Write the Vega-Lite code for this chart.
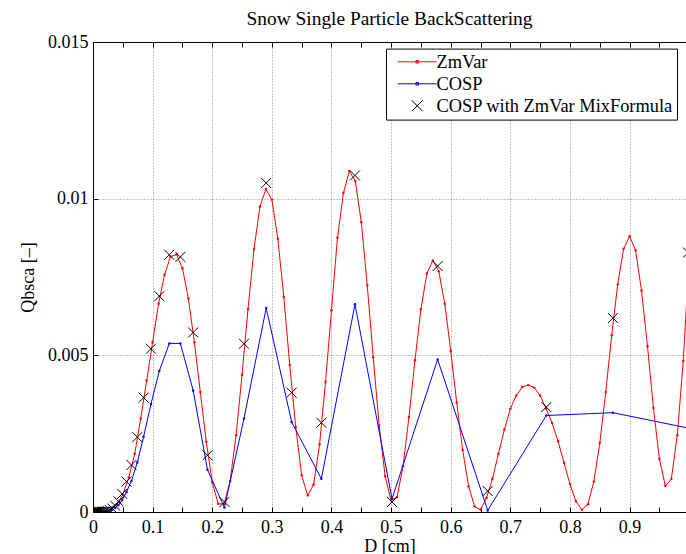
{
  "$schema": "https://vega.github.io/schema/vega-lite/v6.json",
  "width": 593,
  "height": 470,
  "autosize": {"type": "none"},
  "padding": {"left": 93, "top": 42, "right": 0, "bottom": 42},
  "background": "white",
  "title": {"text": "Snow Single Particle BackScattering", "font": "Liberation Serif", "fontSize": 19.4, "fontWeight": "normal", "color": "black", "anchor": "middle", "offset": 4},
  "config": {"view": {"stroke": null}},
  "data": {"values": [
    {"series":"ZmVar","D":0,"Q":0},{"series":"ZmVar","D":0.01,"Q":0.000001},{"series":"ZmVar","D":0.02,"Q":0.000016},{"series":"ZmVar","D":0.03,"Q":0.00008},{"series":"ZmVar","D":0.04,"Q":0.00024},{"series":"ZmVar","D":0.05,"Q":0.00056},{"series":"ZmVar","D":0.06,"Q":0.0011},{"series":"ZmVar","D":0.07,"Q":0.00186},{"series":"ZmVar","D":0.08,"Q":0.00298},{"series":"ZmVar","D":0.09,"Q":0.0042},
    {"series":"ZmVar","D":0.1,"Q":0.00542},{"series":"ZmVar","D":0.11,"Q":0.00665},{"series":"ZmVar","D":0.12,"Q":0.00757},{"series":"ZmVar","D":0.13,"Q":0.00815},{"series":"ZmVar","D":0.14,"Q":0.00822},{"series":"ZmVar","D":0.15,"Q":0.00778},{"series":"ZmVar","D":0.16,"Q":0.00681},{"series":"ZmVar","D":0.17,"Q":0.00542},{"series":"ZmVar","D":0.18,"Q":0.00383},{"series":"ZmVar","D":0.19,"Q":0.00224},
    {"series":"ZmVar","D":0.2,"Q":0.00095},{"series":"ZmVar","D":0.21,"Q":0.00026},{"series":"ZmVar","D":0.22,"Q":0.00026},{"series":"ZmVar","D":0.23,"Q":0.00099},{"series":"ZmVar","D":0.24,"Q":0.00245},{"series":"ZmVar","D":0.25,"Q":0.00438},{"series":"ZmVar","D":0.26,"Q":0.00648},{"series":"ZmVar","D":0.27,"Q":0.00839},{"series":"ZmVar","D":0.28,"Q":0.00974},{"series":"ZmVar","D":0.29,"Q":0.01031},
    {"series":"ZmVar","D":0.3,"Q":0.00997},{"series":"ZmVar","D":0.31,"Q":0.00872},{"series":"ZmVar","D":0.32,"Q":0.00686},{"series":"ZmVar","D":0.33,"Q":0.00469},{"series":"ZmVar","D":0.34,"Q":0.00271},{"series":"ZmVar","D":0.35,"Q":0.00117},{"series":"ZmVar","D":0.36,"Q":0.00053},{"series":"ZmVar","D":0.37,"Q":0.00088},{"series":"ZmVar","D":0.38,"Q":0.00216},{"series":"ZmVar","D":0.39,"Q":0.00415},
    {"series":"ZmVar","D":0.4,"Q":0.00644},{"series":"ZmVar","D":0.41,"Q":0.00875},{"series":"ZmVar","D":0.42,"Q":0.01018},{"series":"ZmVar","D":0.43,"Q":0.01088},{"series":"ZmVar","D":0.44,"Q":0.01056},{"series":"ZmVar","D":0.45,"Q":0.00925},{"series":"ZmVar","D":0.46,"Q":0.00723},{"series":"ZmVar","D":0.47,"Q":0.00494},{"series":"ZmVar","D":0.48,"Q":0.00276},{"series":"ZmVar","D":0.49,"Q":0.00114},
    {"series":"ZmVar","D":0.5,"Q":0.00037},{"series":"ZmVar","D":0.51,"Q":0.00048},{"series":"ZmVar","D":0.52,"Q":0.00146},{"series":"ZmVar","D":0.53,"Q":0.00303},{"series":"ZmVar","D":0.54,"Q":0.00484},{"series":"ZmVar","D":0.55,"Q":0.00647},{"series":"ZmVar","D":0.56,"Q":0.00761},{"series":"ZmVar","D":0.57,"Q":0.00803},{"series":"ZmVar","D":0.58,"Q":0.00768},{"series":"ZmVar","D":0.59,"Q":0.00665},
    {"series":"ZmVar","D":0.6,"Q":0.00514},{"series":"ZmVar","D":0.61,"Q":0.00349},{"series":"ZmVar","D":0.62,"Q":0.00198},{"series":"ZmVar","D":0.63,"Q":0.00082},{"series":"ZmVar","D":0.64,"Q":0.00018},{"series":"ZmVar","D":0.65,"Q":0.00007},{"series":"ZmVar","D":0.66,"Q":0.00045},{"series":"ZmVar","D":0.67,"Q":0.00106},{"series":"ZmVar","D":0.68,"Q":0.00186},{"series":"ZmVar","D":0.69,"Q":0.00263},
    {"series":"ZmVar","D":0.7,"Q":0.0033},{"series":"ZmVar","D":0.71,"Q":0.00372},{"series":"ZmVar","D":0.72,"Q":0.00399},{"series":"ZmVar","D":0.73,"Q":0.00405},{"series":"ZmVar","D":0.74,"Q":0.00397},{"series":"ZmVar","D":0.75,"Q":0.00372},{"series":"ZmVar","D":0.76,"Q":0.0033},{"series":"ZmVar","D":0.77,"Q":0.00284},{"series":"ZmVar","D":0.78,"Q":0.00226},{"series":"ZmVar","D":0.79,"Q":0.00157},
    {"series":"ZmVar","D":0.8,"Q":0.00089},{"series":"ZmVar","D":0.81,"Q":0.00034},{"series":"ZmVar","D":0.82,"Q":0.00007},{"series":"ZmVar","D":0.83,"Q":0.00025},{"series":"ZmVar","D":0.84,"Q":0.00097},{"series":"ZmVar","D":0.85,"Q":0.0022},{"series":"ZmVar","D":0.86,"Q":0.00383},{"series":"ZmVar","D":0.87,"Q":0.00564},{"series":"ZmVar","D":0.88,"Q":0.00726},{"series":"ZmVar","D":0.89,"Q":0.0084},
    {"series":"ZmVar","D":0.9,"Q":0.0088},{"series":"ZmVar","D":0.91,"Q":0.00835},{"series":"ZmVar","D":0.92,"Q":0.00707},{"series":"ZmVar","D":0.93,"Q":0.00529},{"series":"ZmVar","D":0.94,"Q":0.00332},{"series":"ZmVar","D":0.95,"Q":0.00169},{"series":"ZmVar","D":0.96,"Q":0.00083},{"series":"ZmVar","D":0.97,"Q":0.00105},{"series":"ZmVar","D":0.98,"Q":0.00245},{"series":"ZmVar","D":0.99,"Q":0.00482},
    {"series":"ZmVar","D":1.0,"Q":0.0082},
    {"series":"COSP","D":0.001,"Q":0},{"series":"COSP","D":0.0012,"Q":0},{"series":"COSP","D":0.0014,"Q":0},{"series":"COSP","D":0.0016,"Q":0},{"series":"COSP","D":0.0018,"Q":0},{"series":"COSP","D":0.0021,"Q":0},{"series":"COSP","D":0.0024,"Q":0},{"series":"COSP","D":0.0028,"Q":0},{"series":"COSP","D":0.0032,"Q":0},{"series":"COSP","D":0.0036,"Q":0},
    {"series":"COSP","D":0.0042,"Q":0},{"series":"COSP","D":0.0048,"Q":0},{"series":"COSP","D":0.0055,"Q":0.0000001},{"series":"COSP","D":0.0063,"Q":0.0000002},{"series":"COSP","D":0.0072,"Q":0.0000003},{"series":"COSP","D":0.0083,"Q":0.0000005},{"series":"COSP","D":0.0095,"Q":0.0000008},{"series":"COSP","D":0.0108,"Q":0.0000013},{"series":"COSP","D":0.0124,"Q":0.000002},{"series":"COSP","D":0.0143,"Q":0.000003},
    {"series":"COSP","D":0.0164,"Q":0.000004},{"series":"COSP","D":0.0188,"Q":0.000007},{"series":"COSP","D":0.0215,"Q":0.000013},{"series":"COSP","D":0.0247,"Q":0.000023},{"series":"COSP","D":0.0283,"Q":0.00004},{"series":"COSP","D":0.0325,"Q":0.00007},{"series":"COSP","D":0.0373,"Q":0.00013},{"series":"COSP","D":0.0427,"Q":0.00022},{"series":"COSP","D":0.049,"Q":0.00038},{"series":"COSP","D":0.0562,"Q":0.00064},
    {"series":"COSP","D":0.0645,"Q":0.00099},{"series":"COSP","D":0.0743,"Q":0.00158},{"series":"COSP","D":0.0848,"Q":0.0024},{"series":"COSP","D":0.0973,"Q":0.00345},{"series":"COSP","D":0.1112,"Q":0.0045},{"series":"COSP","D":0.128,"Q":0.00538},{"series":"COSP","D":0.1465,"Q":0.00538},{"series":"COSP","D":0.168,"Q":0.00388},{"series":"COSP","D":0.192,"Q":0.00135},{"series":"COSP","D":0.2205,"Q":0.00014},
    {"series":"COSP","D":0.2532,"Q":0.00298},{"series":"COSP","D":0.2905,"Q":0.00651},{"series":"COSP","D":0.3332,"Q":0.00287},{"series":"COSP","D":0.383,"Q":0.00106},{"series":"COSP","D":0.4394,"Q":0.00663},{"series":"COSP","D":0.5015,"Q":0.00042},{"series":"COSP","D":0.578,"Q":0.00487},{"series":"COSP","D":0.662,"Q":0.00005},{"series":"COSP","D":0.7603,"Q":0.00308},{"series":"COSP","D":0.872,"Q":0.00317},
    {"series":"COSP","D":0.998,"Q":0.00268},
    {"series":"COSP with ZmVar MixFormula","D":0.001,"Q":0},{"series":"COSP with ZmVar MixFormula","D":0.0012,"Q":0},{"series":"COSP with ZmVar MixFormula","D":0.0014,"Q":0},{"series":"COSP with ZmVar MixFormula","D":0.0016,"Q":0},{"series":"COSP with ZmVar MixFormula","D":0.0018,"Q":0},{"series":"COSP with ZmVar MixFormula","D":0.0021,"Q":0},{"series":"COSP with ZmVar MixFormula","D":0.0024,"Q":0},{"series":"COSP with ZmVar MixFormula","D":0.0028,"Q":0},{"series":"COSP with ZmVar MixFormula","D":0.0032,"Q":0},{"series":"COSP with ZmVar MixFormula","D":0.0036,"Q":0},
    {"series":"COSP with ZmVar MixFormula","D":0.0042,"Q":0},{"series":"COSP with ZmVar MixFormula","D":0.0048,"Q":0},{"series":"COSP with ZmVar MixFormula","D":0.0055,"Q":0.0000002},{"series":"COSP with ZmVar MixFormula","D":0.0063,"Q":0.0000003},{"series":"COSP with ZmVar MixFormula","D":0.0072,"Q":0.0000005},{"series":"COSP with ZmVar MixFormula","D":0.0083,"Q":0.0000008},{"series":"COSP with ZmVar MixFormula","D":0.0095,"Q":0.0000013},{"series":"COSP with ZmVar MixFormula","D":0.0108,"Q":0.000002},{"series":"COSP with ZmVar MixFormula","D":0.0124,"Q":0.000003},{"series":"COSP with ZmVar MixFormula","D":0.0143,"Q":0.000005},
    {"series":"COSP with ZmVar MixFormula","D":0.0164,"Q":0.000006},{"series":"COSP with ZmVar MixFormula","D":0.0188,"Q":0.00001},{"series":"COSP with ZmVar MixFormula","D":0.0215,"Q":0.00002},{"series":"COSP with ZmVar MixFormula","D":0.0247,"Q":0.000035},{"series":"COSP with ZmVar MixFormula","D":0.0283,"Q":0.00006},{"series":"COSP with ZmVar MixFormula","D":0.0325,"Q":0.00011},{"series":"COSP with ZmVar MixFormula","D":0.0373,"Q":0.0002},{"series":"COSP with ZmVar MixFormula","D":0.0427,"Q":0.00034},{"series":"COSP with ZmVar MixFormula","D":0.049,"Q":0.00058},{"series":"COSP with ZmVar MixFormula","D":0.0562,"Q":0.00097},
    {"series":"COSP with ZmVar MixFormula","D":0.0645,"Q":0.0015},{"series":"COSP with ZmVar MixFormula","D":0.0743,"Q":0.00239},{"series":"COSP with ZmVar MixFormula","D":0.0849,"Q":0.00365},{"series":"COSP with ZmVar MixFormula","D":0.0973,"Q":0.00521},{"series":"COSP with ZmVar MixFormula","D":0.1112,"Q":0.00689},{"series":"COSP with ZmVar MixFormula","D":0.128,"Q":0.00821},{"series":"COSP with ZmVar MixFormula","D":0.1465,"Q":0.00814},{"series":"COSP with ZmVar MixFormula","D":0.168,"Q":0.00573},{"series":"COSP with ZmVar MixFormula","D":0.192,"Q":0.00181},{"series":"COSP with ZmVar MixFormula","D":0.2205,"Q":0.00032},
    {"series":"COSP with ZmVar MixFormula","D":0.2532,"Q":0.00537},{"series":"COSP with ZmVar MixFormula","D":0.2905,"Q":0.0105},{"series":"COSP with ZmVar MixFormula","D":0.3332,"Q":0.00381},{"series":"COSP with ZmVar MixFormula","D":0.383,"Q":0.00285},{"series":"COSP with ZmVar MixFormula","D":0.4394,"Q":0.01074},{"series":"COSP with ZmVar MixFormula","D":0.5015,"Q":0.00032},{"series":"COSP with ZmVar MixFormula","D":0.578,"Q":0.00785},{"series":"COSP with ZmVar MixFormula","D":0.662,"Q":0.00067},{"series":"COSP with ZmVar MixFormula","D":0.7603,"Q":0.00335},{"series":"COSP with ZmVar MixFormula","D":0.872,"Q":0.00619},
    {"series":"COSP with ZmVar MixFormula","D":0.998,"Q":0.00828}
  ]},
  "resolve": {"axis": {"x": "independent"}},
  "layer": [
    {
      "transform": [{"filter": "datum.series === 'ZmVar'"}],
      "mark": {"type": "line", "color": "#ff0000", "strokeWidth": 1, "clip": true, "point": {"filled": true, "size": 6, "color": "#ff0000"}},
      "encoding": {
        "x": {"field": "D", "type": "quantitative", "scale": {"domain": [0, 0.9946], "nice": false, "zero": false},
          "axis": {"orient": "bottom", "values": [0,0.05,0.1,0.15,0.2,0.25,0.3,0.35,0.4,0.45,0.5,0.55,0.6,0.65,0.7,0.75,0.8,0.85,0.9,0.95],
            "labelExpr": "round(datum.value*100) % 10 === 0 ? format(datum.value, '.1~f') : ''",
            "grid": true, "gridDash": [1, 2], "gridColor": "#888888", "gridWidth": 1,
            "gridOpacity": {"condition": {"test": "round(datum.value*100) % 10 !== 0", "value": 0}, "value": 1},
            "tickSize": -5, "tickColor": "black", "domainColor": "black", "labelFlush": false, "labelOverlap": false,
            "labelFont": "Liberation Serif", "labelFontSize": 18, "labelColor": "black", "labelPadding": 11,
            "title": "D [cm]", "titleFont": "Liberation Serif", "titleFontSize": 18, "titleFontWeight": "normal", "titleColor": "black", "titlePadding": 1}},
        "y": {"field": "Q", "type": "quantitative", "scale": {"domain": [0, 0.015], "nice": false, "zero": false},
          "axis": {"values": [0, 0.005, 0.01, 0.015], "format": ".3~f",
            "grid": true, "gridDash": [1, 2], "gridColor": "#888888", "gridWidth": 1,
            "tickSize": -5, "tickColor": "black", "domainColor": "black", "labelFlush": false, "labelOverlap": false,
            "labelFont": "Liberation Serif", "labelFontSize": 18, "labelColor": "black", "labelPadding": 10,
            "title": "Qbsca [–]", "titleFont": "Liberation Serif", "titleFontSize": 18, "titleFontWeight": "normal", "titleColor": "black", "titlePadding": 10}}
      }
    },
    {
      "transform": [{"filter": "datum.series === 'COSP'"}],
      "mark": {"type": "line", "color": "#0000ff", "strokeWidth": 1, "clip": true, "point": {"filled": true, "size": 6, "color": "#0000ff"}},
      "encoding": {
        "x": {"field": "D", "type": "quantitative", "axis": null},
        "y": {"field": "Q", "type": "quantitative"}
      }
    },
    {
      "transform": [{"filter": "datum.series === 'COSP with ZmVar MixFormula'"}],
      "mark": {"type": "point", "shape": "M-1,-1L1,1M-1,1L1,-1", "size": 100, "filled": false, "color": "black", "strokeWidth": 1, "opacity": 1, "clip": true},
      "encoding": {
        "x": {"field": "D", "type": "quantitative",
          "axis": {"orient": "top", "values": [0,0.05,0.1,0.15,0.2,0.25,0.3,0.35,0.4,0.45,0.5,0.55,0.6,0.65,0.7,0.75,0.8,0.85,0.9,0.95],
            "labels": false, "grid": false, "tickSize": -5, "tickColor": "black", "domainColor": "black", "title": null}},
        "y": {"field": "Q", "type": "quantitative"}
      }
    },
    {
      "mark": {"type": "point", "filled": false, "opacity": 0, "clip": true},
      "encoding": {
        "x": {"field": "D", "type": "quantitative", "axis": null},
        "y": {"field": "Q", "type": "quantitative"},
        "color": {"field": "series", "type": "nominal",
          "scale": {"domain": ["ZmVar", "COSP", "COSP with ZmVar MixFormula"], "range": ["#ff0000", "#0000ff", "#000000"]},
          "legend": {"title": null, "orient": "none", "legendX": 293, "legendY": 6.6,
            "symbolSize": 100, "symbolStrokeWidth": 1, "symbolOpacity": 1,
            "labelFont": "Liberation Serif", "labelFontSize": 18.4, "labelColor": "black", "labelOffset": 28, "labelLimit": 400,
            "padding": 4, "rowPadding": 3, "strokeColor": "black", "fillColor": "white", "cornerRadius": 0}},
        "shape": {"field": "series", "type": "nominal",
          "scale": {"domain": ["ZmVar", "COSP", "COSP with ZmVar MixFormula"],
            "range": ["M-0.3,0L7.5,0M3.35,-0.25L3.85,-0.25L3.85,0.25L3.35,0.25Z", "M-0.3,0L7.5,0M3.35,-0.25L3.85,-0.25L3.85,0.25L3.35,0.25Z", "M2.5,-1.1L4.7,1.1M2.5,1.1L4.7,-1.1"]}}
      }
    }
  ]
}
